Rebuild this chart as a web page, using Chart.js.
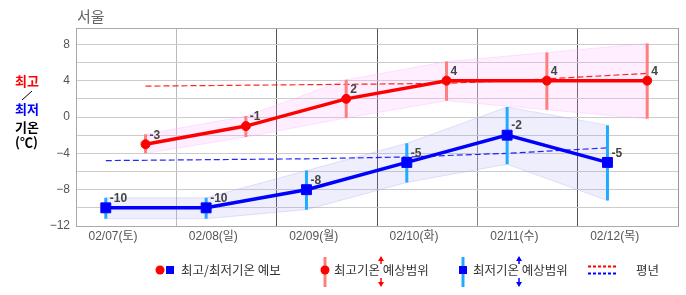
<!DOCTYPE html>
<html>
<head>
<meta charset="utf-8">
<script src="https://cdn.jsdelivr.net/npm/chart.js@4.4.1/dist/chart.umd.min.js"></script>
<style>
  body { margin:0; background:#fff; font-family:"Liberation Sans","Noto Sans CJK KR",sans-serif; }
  #wrap { position:relative; width:686px; height:295px; }
  canvas { position:absolute; left:0; top:0; }
  .txt { position:absolute; white-space:nowrap; font-family:"Noto Sans CJK KR",sans-serif; }
  #title { left:77px; top:5px; font-size:15px; color:#666; }
  .ylab { left:15px; font-size:13px; font-weight:bold; line-height:16px; }
  .leg { top:262px; font-size:12.5px; line-height:16px; color:#333; }
  svg { position:absolute; left:0; top:0; }
</style>
</head>
<body>
<div id="wrap">
  <canvas id="c" width="686" height="295"></canvas>
  <div id="title" class="txt">서울</div>
  <div class="txt ylab" style="top:73px;color:#f00">최고</div>
  <div class="txt ylab" style="top:101px;color:#00f">최저</div>
  <div class="txt ylab" style="top:119px;color:#000">기온</div>
  <div class="txt ylab" style="top:134px;color:#000">(℃)</div>
  <svg width="686" height="295">
    <line x1="22" y1="100" x2="32" y2="91" stroke="#000" stroke-width="1"/>
    <circle cx="160" cy="270" r="4.5" fill="#f00"/>
    <rect x="166" y="266" width="8" height="8" fill="#00f"/>
    <line x1="325" y1="257" x2="325" y2="287" stroke="#ff7f7f" stroke-width="3"/>
    <circle cx="325" cy="270" r="4.5" fill="#f00"/>
    <line x1="381" y1="259" x2="381" y2="264" stroke="#f00" stroke-width="1.5"/>
    <polygon points="381,256 378,261 384,261" fill="#f00"/>
    <line x1="381" y1="278" x2="381" y2="283" stroke="#f00" stroke-width="1.5"/>
    <polygon points="381,287 378,282 384,282" fill="#f00"/>
    <line x1="463" y1="257" x2="463" y2="287" stroke="#22aaff" stroke-width="3"/>
    <rect x="459" y="266" width="8" height="8" fill="#00f"/>
    <line x1="519" y1="259" x2="519" y2="264" stroke="#00f" stroke-width="1.5"/>
    <polygon points="519,256 516,261 522,261" fill="#00f"/>
    <line x1="519" y1="278" x2="519" y2="283" stroke="#00f" stroke-width="1.5"/>
    <polygon points="519,287 516,282 522,282" fill="#00f"/>
    <line x1="588" y1="266.5" x2="616" y2="266.5" stroke="#f00" stroke-width="2" stroke-dasharray="3,2"/>
    <line x1="588" y1="273.5" x2="616" y2="273.5" stroke="#00f" stroke-width="2" stroke-dasharray="3,2"/>
  </svg>
  <div class="txt leg" style="left:181px">최고/최저기온 예보</div>
  <div class="txt leg" style="left:334px">최고기온 예상범위</div>
  <div class="txt leg" style="left:473px">최저기온 예상범위</div>
  <div class="txt leg" style="left:636px">평년</div>
</div>
<script>
// data
const days = ['02/07(토)','02/08(일)','02/09(월)','02/10(화)','02/11(수)','02/12(목)'];
const highs = [-3, -1, 2, 4, 4, 4];
const lows = [-10, -10, -8, -5, -2, -5];
const highTop = [-1.9, 0.1, 4.1, 6.1, 7.1, 8.1];
const highBottom = [-4.0, -2.2, -0.1, 1.8, 0.8, -0.2];
const lowTop = [-8.9, -8.9, -5.9, -2.9, 1.1, -0.9];
const lowBottom = [-11.2, -11.2, -10.2, -7.2, -5.2, -9.2];
const normalHigh = [3.4, 3.5, 3.6, 3.7, 4.2, 4.8];
const normalLow = [-4.8, -4.7, -4.6, -4.4, -4.0, -3.4];
const yTicks = [-12, -10, -8, -6, -4, -2, 0, 2, 4, 6, 8];

// where inside each day column the marks sit
const HI_X = 0.693, LO_X = 0.297;
const Y_MIN = -12, Y_MAX = 9.8;

const pts = (vals, off) => vals.map((v, i) => ({ x: i + off, y: v }));
function bars(top, bottom, off) {
    const out = [];
    top.forEach((t, i) => {
        out.push({ x: i + off, y: t }, { x: i + off, y: bottom[i] }, { x: i + off, y: null });
    });
    return out;
}

const gridX = ['#aaa', '#bbb', '#555', '#555', '#888', '#555', '#999'];

// value labels next to the points
const valueLabels = {
    id: 'valueLabels',
    afterDatasetsDraw(chart) {
        const ctx = chart.ctx;
        ctx.save();
        ctx.font = 'bold 12px "Liberation Sans", sans-serif';
        ctx.fillStyle = '#444';
        ctx.textAlign = 'left';
        ctx.textBaseline = 'middle';
        [[0, highs], [1, lows]].forEach(([di, vals]) => {
            chart.getDatasetMeta(di).data.forEach((p, i) => {
                ctx.fillText(String(vals[i]), p.x + 4, p.y - 9);
            });
        });
        ctx.restore();
    }
};

new Chart(document.getElementById('c'), {
    type: 'line',
    data: {
        datasets: [
            { data: pts(highs, HI_X), borderColor: '#f00', backgroundColor: '#f00', borderWidth: 3.5,
              pointRadius: 4.5, pointBorderWidth: 1, pointBorderColor: '#f00', order: 1 },
            { data: pts(lows, LO_X), borderColor: '#00f', backgroundColor: '#00f', borderWidth: 3.5,
              pointStyle: 'rect', pointRadius: 7, pointBorderWidth: 1, pointBorderColor: '#00f', order: 2 },
            { data: bars(highTop, highBottom, HI_X), borderColor: '#ff7f7f', borderWidth: 3,
              pointRadius: 0, spanGaps: false, order: 3 },
            { data: bars(lowTop, lowBottom, LO_X), borderColor: '#22aaff', borderWidth: 3,
              pointRadius: 0, spanGaps: false, order: 4 },
            { data: pts(normalHigh, HI_X), borderColor: 'rgba(255,0,0,0.85)', borderWidth: 1.2,
              borderDash: [6, 3], pointRadius: 0, order: 5 },
            { data: pts(normalLow, LO_X), borderColor: 'rgba(0,0,255,0.85)', borderWidth: 1.2,
              borderDash: [6, 3], pointRadius: 0, order: 6 },
            { data: pts(highTop, HI_X), borderColor: 'rgba(250,180,250,0.35)', borderWidth: 1,
              backgroundColor: 'rgba(255,170,255,0.2)', fill: '+1', pointRadius: 0, order: 7 },
            { data: pts(highBottom, HI_X), borderColor: 'rgba(250,180,250,0.35)', borderWidth: 1,
              pointRadius: 0, order: 8 },
            { data: pts(lowTop, LO_X), borderColor: 'rgba(170,170,240,0.3)', borderWidth: 1,
              backgroundColor: 'rgba(150,150,240,0.16)', fill: '+1', pointRadius: 0, order: 9 },
            { data: pts(lowBottom, LO_X), borderColor: 'rgba(170,170,240,0.3)', borderWidth: 1,
              pointRadius: 0, order: 10 }
        ]
    },
    options: {
        responsive: false,
        animation: false,
        events: [],
        layout: { padding: { left: 0, right: 4, top: 28, bottom: 45 } },
        elements: { line: { tension: 0 } },
        plugins: { legend: { display: false }, tooltip: { enabled: false } },
        scales: {
            x: {
                type: 'linear', min: 0, max: days.length,
                afterBuildTicks: s => { s.ticks = days.concat(['']).map((d, i) => ({ value: i })); },
                afterFit: s => { s.height = 24; },
                grid: { color: c => gridX[c.index] || '#999', drawTicks: false, lineWidth: 1 },
                border: { color: '#aaa' },
                ticks: {
                    autoSkip: false, maxRotation: 0, padding: 3, labelOffset: 37,
                    color: '#555', font: { size: 12, family: '"Liberation Sans","Noto Sans CJK KR",sans-serif' },
                    callback: (v, i) => days[i] || ''
                }
            },
            y: {
                min: Y_MIN, max: Y_MAX,
                afterBuildTicks: s => { s.ticks = yTicks.concat([Y_MAX]).map(v => ({ value: v })); },
                afterFit: s => { s.width = 76; },
                grid: { color: c => (c.tick && c.tick.value === Y_MAX) ? '#aaa' : '#ccc', drawTicks: false },
                border: { color: '#aaa' },
                ticks: {
                    padding: 6, color: '#555', font: { size: 12, family: '"Liberation Sans",sans-serif' },
                    callback: v => (v % 4 === 0 && v !== Y_MAX) ? String(v).replace('-', '\u2212') : ''
                }
            }
        }
    },
    plugins: [valueLabels]
});
</script>
</body>
</html>
